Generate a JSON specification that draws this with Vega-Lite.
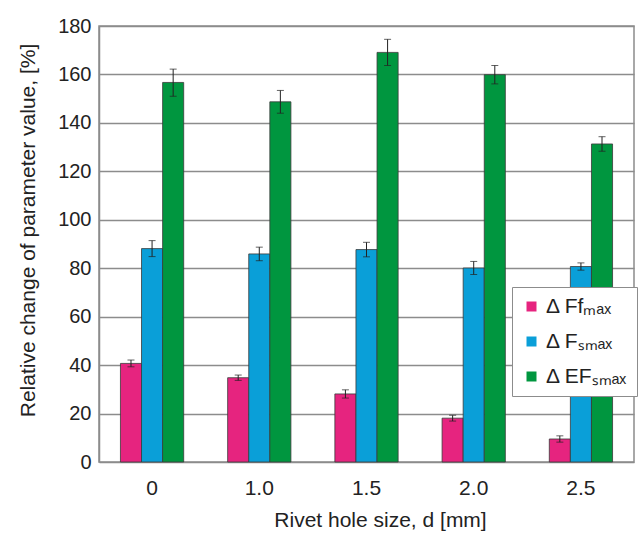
{
  "$schema": "https://vega.github.io/schema/vega-lite/v6.json",
  "width": 535,
  "height": 436,
  "autosize": {"type": "none"},
  "padding": {"left": 99, "top": 26, "right": 4, "bottom": 79},
  "background": "white",
  "config": {
    "font": "Liberation Sans",
    "view": {"stroke": "#8c8c8c", "strokeWidth": 1.5},
    "axis": {"labelFont": "Liberation Sans", "titleFont": "Liberation Sans", "labelColor": "#222", "titleColor": "#222", "titleFontWeight": "normal"}
  },
  "data": {
    "values": [
      {"d": "0", "series": "a", "value": 40.7, "lo": 39.3, "hi": 42.1},
      {"d": "0", "series": "b", "value": 88.1, "lo": 84.8, "hi": 91.4},
      {"d": "0", "series": "c", "value": 156.7, "lo": 151.0, "hi": 162.2},
      {"d": "1.0", "series": "a", "value": 34.8, "lo": 33.7, "hi": 35.9},
      {"d": "1.0", "series": "b", "value": 85.9, "lo": 83.1, "hi": 88.7},
      {"d": "1.0", "series": "c", "value": 148.7, "lo": 144.0, "hi": 153.4},
      {"d": "1.5", "series": "a", "value": 28.1, "lo": 26.4, "hi": 29.8},
      {"d": "1.5", "series": "b", "value": 87.7, "lo": 84.7, "hi": 90.7},
      {"d": "1.5", "series": "c", "value": 169.1, "lo": 163.7, "hi": 174.5},
      {"d": "2.0", "series": "a", "value": 18.1, "lo": 16.9, "hi": 19.3},
      {"d": "2.0", "series": "b", "value": 80.1, "lo": 77.4, "hi": 82.8},
      {"d": "2.0", "series": "c", "value": 159.9, "lo": 156.1, "hi": 163.7},
      {"d": "2.5", "series": "a", "value": 9.5, "lo": 8.2, "hi": 10.8},
      {"d": "2.5", "series": "b", "value": 80.7, "lo": 79.2, "hi": 82.2},
      {"d": "2.5", "series": "c", "value": 131.3, "lo": 128.3, "hi": 134.3}
    ]
  },
  "encoding": {
    "x": {
      "field": "d", "type": "nominal", "sort": null,
      "scale": {"paddingInner": 0.41, "paddingOuter": 0.2},
      "axis": {
        "title": "Rivet hole size, d [mm]", "labelAngle": 0, "ticks": false, "domain": false,
        "labelFontSize": 21, "labelPadding": 15, "titleFontSize": 21,
        "titleX": 281, "titleY": 64, "titleBaseline": "alphabetic"
      }
    },
    "xOffset": {"field": "series", "type": "nominal", "sort": ["a", "b", "c"], "scale": {"paddingInner": 0, "paddingOuter": 0}}
  },
  "layer": [
    {
      "mark": {"type": "bar", "stroke": "#3a3a3a", "strokeWidth": 0.8},
      "encoding": {
        "y": {
          "field": "value", "type": "quantitative",
          "scale": {"domain": [0, 180], "nice": false},
          "axis": {
            "title": "Relative change of parameter value, [%]",
            "values": [0, 20, 40, 60, 80, 100, 120, 140, 160, 180],
            "grid": true, "gridColor": "#8c8c8c", "gridWidth": 1.5,
            "domainColor": "#8c8c8c", "domainWidth": 1.5,
            "ticks": false, "labelPadding": 8, "labelFontSize": 20, "titleFontSize": 21,
            "titleX": -71, "titleY": 204, "titleBaseline": "middle"
          }
        },
        "color": {
          "field": "series", "type": "nominal",
          "scale": {"domain": ["a", "b", "c"], "range": ["#e6247f", "#0a9fd8", "#00963f"]},
          "legend": {
            "title": null, "orient": "none", "legendX": 413, "legendY": 261,
            "direction": "vertical",
            "strokeColor": "#8c8c8c", "fillColor": "white", "padding": 9,
            "symbolType": "square", "symbolSize": 100, "symbolStrokeWidth": 0,
            "labelFontSize": 21, "labelFont": "Liberation Sans", "labelColor": "#222",
            "rowPadding": 13, "labelLimit": 200,
            "labelExpr": "datum.value == 'a' ? 'Δ Ffₘₐₓ' : datum.value == 'b' ? 'Δ Fₛₘₐₓ' : 'Δ EFₛₘₐₓ'"
          }
        }
      }
    },
    {
      "mark": {"type": "rule", "color": "#222", "strokeWidth": 1},
      "encoding": {
        "y": {"field": "lo", "type": "quantitative"},
        "y2": {"field": "hi"}
      }
    },
    {
      "mark": {"type": "tick", "color": "#222", "thickness": 1, "size": 7},
      "encoding": {"y": {"field": "lo", "type": "quantitative"}}
    },
    {
      "mark": {"type": "tick", "color": "#222", "thickness": 1, "size": 7},
      "encoding": {"y": {"field": "hi", "type": "quantitative"}}
    }
  ]
}
